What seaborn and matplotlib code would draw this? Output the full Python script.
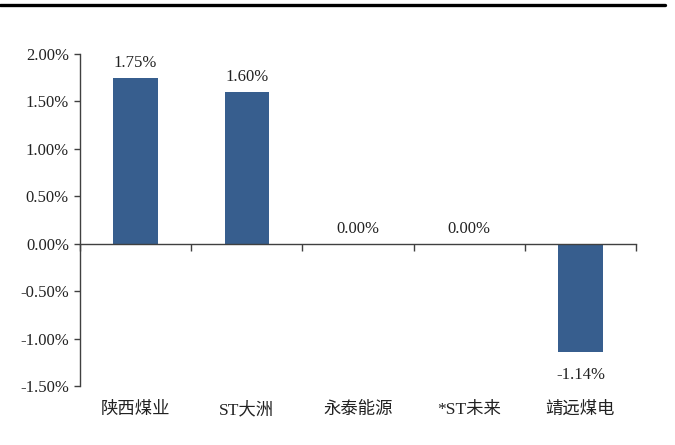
import matplotlib
matplotlib.use("Agg")
import matplotlib.pyplot as plt
import matplotlib.transforms as mtransforms
from matplotlib.lines import Line2D
from matplotlib.ticker import FixedLocator, FuncFormatter
import seaborn as sns
import pandas as pd

categories = ["陕西煤业", "ST大洲", "永泰能源", "*ST未来", "靖远煤电"]
values = [1.75, 1.60, 0.00, 0.00, -1.14]
y_ticks = [-1.5, -1.0, -0.5, 0.0, 0.5, 1.0, 1.5, 2.0]

sns.set_theme(style="white")
plt.rcParams['font.family'] = ['Liberation Serif', 'Noto Sans CJK SC']
plt.rcParams['axes.unicode_minus'] = False

fig = plt.figure(figsize=(6.75, 4.45), dpi=100)
ax = fig.add_axes([80/675, 1-386/445, (636-80)/675, (386-54)/445])

df = pd.DataFrame({"cat": categories, "val": values})
sns.barplot(data=df, x="cat", y="val", color="#375E8E", width=0.4, ax=ax,
            saturation=1, edgecolor="none")

ax.set_ylim(-1.5, 2.0)
ax.set_xlim(-0.5, len(categories) - 0.5)
ax.yaxis.set_major_locator(FixedLocator(y_ticks))
ax.yaxis.set_major_formatter(FuncFormatter(lambda v, p: f"{v:.2f}%"))
ax.set_xlabel("")
ax.set_ylabel("")

for s in ["top", "right"]:
    ax.spines[s].set_visible(False)
ax.spines["bottom"].set_position(("data", 0))
for s in ["left", "bottom"]:
    ax.spines[s].set_color("#404040")
    ax.spines[s].set_linewidth(1.0)

ax.tick_params(axis="y", left=True, direction="out", length=4, width=1,
               color="#404040", labelsize=12, pad=4, labelcolor="#222222")
ax.set_xticks([i - 0.5 for i in range(len(categories) + 1)], minor=True)
ax.tick_params(axis="x", which="minor", bottom=True, direction="out",
               length=5, width=1, color="#404040")
ax.tick_params(axis="x", which="major", bottom=False, labelbottom=False)

trans = mtransforms.blended_transform_factory(ax.transData, ax.transAxes)
for i, c in enumerate(categories):
    ax.text(i, -0.072, c, transform=trans, ha="center", va="center",
            fontsize=12.5, color="#222222")

for i, v in enumerate(values):
    if v >= 0:
        ax.annotate(f"{v:.2f}%", (i, v), xytext=(0, 5), textcoords="offset points",
                    ha="center", va="bottom", fontsize=12, color="#222222")
    else:
        ax.annotate(f"{v:.2f}%", (i, v), xytext=(0, -11), textcoords="offset points",
                    ha="center", va="top", fontsize=12, color="#222222")

fig.add_artist(Line2D([0, 665/675], [1-5/445, 1-5/445], color="black",
                      linewidth=2.4, transform=fig.transFigure))

fig.savefig("out.png", dpi=100)
